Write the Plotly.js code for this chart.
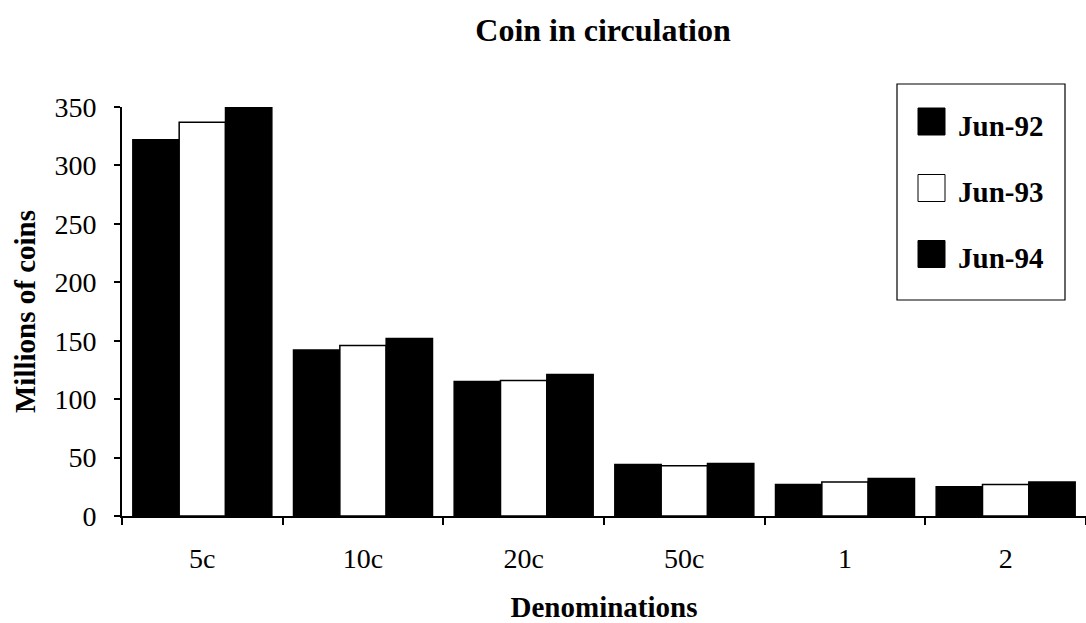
<!DOCTYPE html>
<html>
<head>
<meta charset="utf-8">
<script src="https://cdn.plot.ly/plotly-3.0.1.min.js"></script>
<style>html,body{margin:0;padding:0;background:#fff;}#chart{width:1086px;height:623px;}</style>
</head>
<body>
<div id="chart"></div>
<script>
const categories = ["5c", "10c", "20c", "50c", "1", "2"];
const seriesNames = ["Jun-92", "Jun-93", "Jun-94"];
const jun92 = [322, 142, 115, 44, 27, 25];
const jun93 = [337, 146, 116, 43, 29, 27];
const jun94 = [350, 152, 121, 45, 32, 29];
const yTicks = [0, 50, 100, 150, 200, 250, 300, 350];

const W = 1086, H = 623;
const M = {l: 122, r: 0, t: 107, b: 107};
const PW = W - M.l - M.r, PH = H - M.t - M.b;
const px = x => (x - M.l) / PW;
const py = y => (H - M.b - y) / PH;

const fills = ["#000000", "#ffffff", "#000000"];
const values = [jun92, jun93, jun94];
const FONT = "Liberation Serif, Times New Roman, serif";

const traces = values.map((v, i) => ({
  type: "bar",
  name: seriesNames[i],
  x: categories,
  y: v,
  marker: {color: fills[i], line: {color: "#000", width: 1.5}},
  showlegend: false,
  hoverinfo: "x+y+name"
}));

// custom legend drawn in paper coordinates
const shapes = [{
  type: "rect", xref: "paper", yref: "paper",
  x0: px(897), x1: px(1065), y0: py(84), y1: py(300),
  line: {color: "#000", width: 1.2}, fillcolor: "#fff", layer: "above"
}];
const annotations = [];
const rowY = [121.5, 188, 254];
seriesNames.forEach((n, i) => {
  shapes.push({
    type: "rect", xref: "paper", yref: "paper",
    x0: px(918), x1: px(945), y0: py(rowY[i] - 13.5), y1: py(rowY[i] + 13.5),
    line: {color: "#000", width: 1}, fillcolor: fills[i], layer: "above"
  });
  annotations.push({
    xref: "paper", yref: "paper", x: px(956), y: py(rowY[i] + 4),
    xanchor: "left", yanchor: "middle", showarrow: false,
    text: "<b>" + n + "</b>",
    font: {family: FONT, size: 29, color: "#000"}
  });
});

const layout = {
  width: W, height: H,
  margin: M,
  paper_bgcolor: "#fff", plot_bgcolor: "#fff",
  title: {text: "<b>Coin in circulation</b>", x: 603 / W, xanchor: "center", y: (H - 30) / H, yanchor: "middle",
          font: {family: FONT, size: 32, color: "#000"}},
  barmode: "group",
  bargap: 0.135,
  bargroupgap: 0,
  showlegend: false,
  xaxis: {
    type: "category",
    tickson: "boundaries",
    ticks: "outside", ticklen: 7, tickwidth: 2, tickcolor: "#000",
    showline: true, linecolor: "#000", linewidth: 2,
    showgrid: false, zeroline: false,
    tickfont: {family: FONT, size: 28, color: "#000"},
    ticklabelstandoff: 16,
    title: {text: "<b>Denominations</b>", font: {family: FONT, size: 29, color: "#000"}, standoff: 30},
    automargin: false
  },
  yaxis: {
    range: [0, 350],
    tickvals: yTicks,
    ticktext: yTicks.map(String),
    ticks: "outside", ticklen: 6, tickwidth: 2, tickcolor: "#000",
    showline: true, linecolor: "#000", linewidth: 2,
    showgrid: false, zeroline: false,
    tickfont: {family: FONT, size: 28, color: "#000"},
    ticklabelstandoff: 12,
    title: {text: "<b>Millions of coins</b>", font: {family: FONT, size: 29, color: "#000"}, standoff: 10},
    automargin: false
  },
  shapes: shapes,
  annotations: annotations
};

Plotly.newPlot("chart", traces, layout, {displayModeBar: false, staticPlot: true});
</script>
</body>
</html>
